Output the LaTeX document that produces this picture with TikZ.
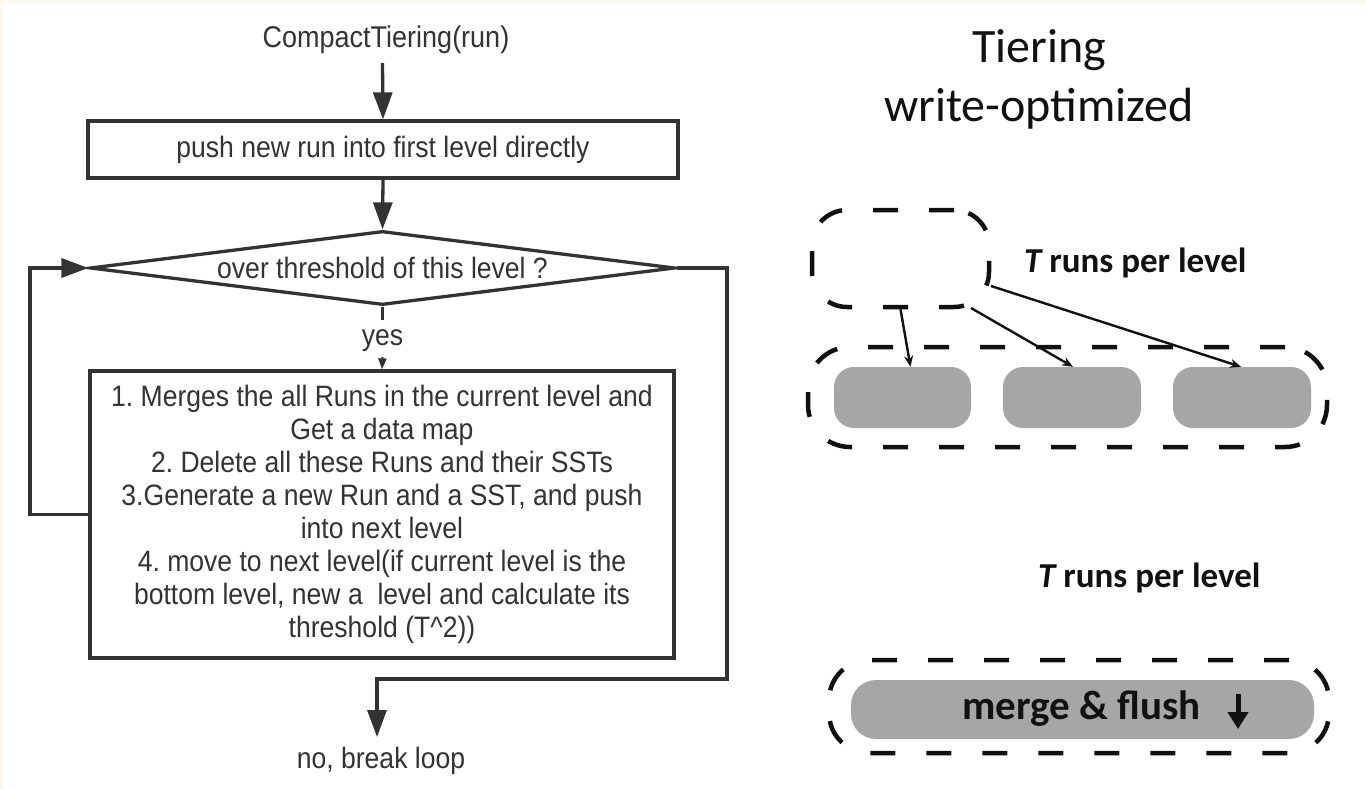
\documentclass[tikz,border=0pt]{standalone}
\usepackage{fontspec}
\setmainfont{Liberation Sans}
\newfontfamily\flowfont[FakeStretch=0.9]{Liberation Sans}
\newfontfamily\calfont{Carlito}
\usetikzlibrary{arrows.meta,shapes.geometric,calc}
\definecolor{ink}{HTML}{333333}
\definecolor{runfill}{HTML}{A6A6A6}
\definecolor{paper}{HTML}{FCF8EE}
\definecolor{dark}{HTML}{111111}
\frenchspacing

\begin{document}
\begin{tikzpicture}[x=1pt,y=-1pt,
  flowline/.style={draw=ink, line width=3.3pt},
  bigarrow/.style={flowline, -{Triangle[length=27pt,width=19pt]}},
  smallarrow/.style={flowline, line width=2pt, -{Triangle[length=11pt,width=8pt]}},
  flowfont/.style={text=ink, font=\flowfont\fontsize{29.5}{33}\selectfont},
  proc/.style={flowline, rectangle, inner sep=0pt, flowfont, align=center},
  decision/.style={flowline, diamond, inner sep=0pt, flowfont, shape aspect=7.9},
  label/.style={flowfont, inner sep=0pt},
  dashbox/.style={draw=dark, line width=4.5pt, dash pattern=on 25pt off 31pt, rectangle, inner sep=0pt},
  runbox/.style={fill=runfill, rectangle, rounded corners=20pt, inner sep=0pt, minimum height=61pt},
  calfont/.style={text=dark, font=\calfont\fontsize{#1}{#1}\selectfont},
  thinarrow/.style={draw=dark, line width=2.4pt, -{Stealth[length=11pt,width=9pt]}},
]
% page and thin cream margin
\fill[paper] (0,0) rectangle (1366,789);
\fill[white] (3,3) rectangle (1366,789);
\useasboundingbox (0,0) rectangle (1366,789);

% ---------------- flowchart ----------------
\node[label, font=\flowfont\fontsize{30}{33}\selectfont] (title) at (386,40) {CompactTiering(run)};
\coordinate (start) at (382.5,63);
\node[proc, minimum width=590pt, minimum height=57pt] (push) at (383,149.5)
  {push new run into first level directly};
\node[decision, minimum width=585pt, minimum height=74pt] (test) at (382.5,268)
  {over threshold of this level ?};
\node[label] (yes) at (382.5,341) {yes};
\node[proc, minimum width=584pt, minimum height=287pt] (merge) at (382,514.5)
  {1. Merges the all Runs in the current level and\\
   Get a data map\\
   2. Delete all these Runs and their SSTs\\
   3.Generate a new Run and a SST, and push\\
   into next level\\
   4. move to next level(if current level is the\\
   bottom level, new a\ \ level and calculate its\\
   threshold (T\textasciicircum 2))};
\node[label] (done) at (381,761) {no, break loop};
\coordinate (yesbot) at (382.5,320);
\coordinate (yestop) at (382.5,357);
\coordinate (loopL) at (30,0);
\coordinate (exitR) at (727,679);
\coordinate (exitE) at (377,737);

\draw[bigarrow] (start) -- (push.north);
\draw[bigarrow] (push.south) -- (test.north);
\draw[flowline] (test.south) -- (yesbot);
\draw[smallarrow] (yestop) -- (merge.north);
\draw[bigarrow] (merge.west) -- (loopL |- merge.west) -- (loopL |- test.west) -- (test.west);
\draw[bigarrow] (test.east) -- (exitR |- test.east) -- (exitR) -- (exitE |- exitR) -- (exitE);

% ---------------- tiering sketch ----------------
\node[calfont=48, anchor=base, inner sep=0pt] (tier) at (1039,63) {Tiering};
\node[calfont=48, anchor=base, inner sep=0pt] (wopt) at (1039,122) {write-optimized};

\node[dashbox, rounded corners=35pt, minimum width=177pt, minimum height=97pt] (top) at (900.5,258.5) {};
\node[calfont=35, anchor=west, inner sep=0pt] (tlabA) at (1024,263) {\bfseries\itshape T\upshape\ runs per level};

\node[dashbox, rounded corners=42pt, minimum width=519pt, minimum height=100pt] (lvl) at (1067.5,397) {};
\node[runbox, minimum width=137pt] (r1) at (902.5,397.5) {};
\node[runbox, minimum width=138pt] (r2) at (1072,397.5) {};
\node[runbox, minimum width=138pt] (r3) at (1242,397.5) {};

\coordinate (s2) at (971,308);
\coordinate (s3) at (991,286);
\draw[thinarrow] (top.south) -- ([xshift=8pt]r1.north);
\draw[thinarrow] (s2) -- ([xshift=1pt]r2.north);
\draw[thinarrow] (s3) -- ([xshift=-1pt]r3.north);

\node[calfont=35, anchor=west, inner sep=0pt] (tlabB) at (1038,578) {\bfseries\itshape T\upshape\ runs per level};

\node[dashbox, rounded corners=40pt, minimum width=500pt, minimum height=93pt] (low) at (1079,706.5) {};
\node[runbox, rounded corners=25pt, minimum width=463pt, minimum height=59pt] (bar) at (1082.5,709.5) {};
\node[calfont=41, inner sep=0pt] (mf) at (1081.5,709) {\bfseries merge \& flush};
\coordinate (fa) at (1238,694);
\coordinate (fb) at (1238,729);
\draw[draw=dark, line width=5pt, -{Triangle[length=17pt,width=20pt]}] (fa) -- (fb);
\end{tikzpicture}
\end{document}
